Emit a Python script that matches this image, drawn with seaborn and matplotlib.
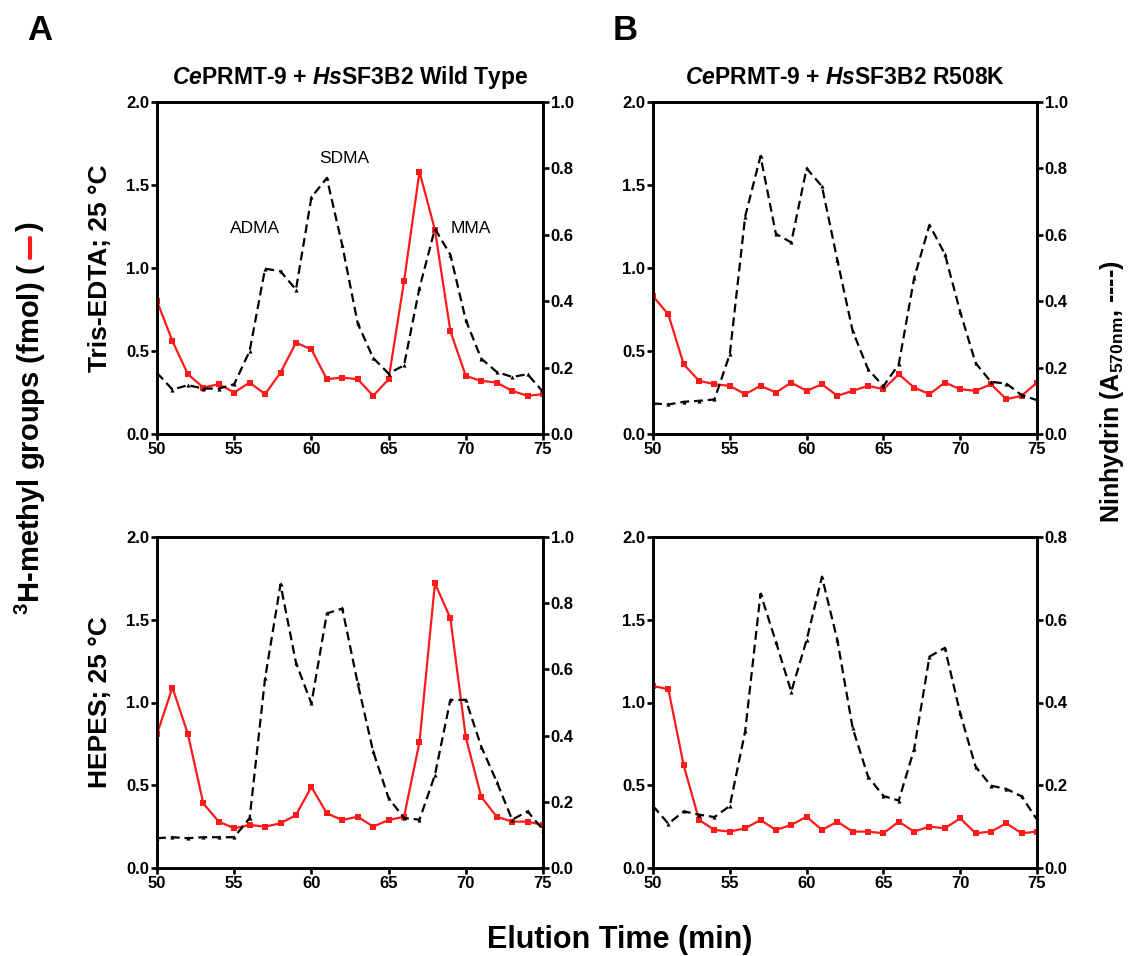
import numpy as np
import pandas as pd
import matplotlib
matplotlib.use("Agg")
import matplotlib.pyplot as plt
from matplotlib.lines import Line2D
import seaborn as sns

# elution time (min) shared by all four panels
elution_min = list(range(50, 76))

# 3H-methyl groups (fmol), left axis
wt_tris_methyl = [0.80, 0.56, 0.36, 0.28, 0.30, 0.25, 0.31, 0.24, 0.37, 0.55, 0.51, 0.33,
                  0.34, 0.33, 0.23, 0.33, 0.92, 1.58, 1.23, 0.62, 0.35, 0.32, 0.31, 0.26,
                  0.23, 0.24]
mut_tris_methyl = [0.83, 0.72, 0.42, 0.32, 0.30, 0.29, 0.24, 0.29, 0.25, 0.31, 0.26, 0.30,
                   0.23, 0.26, 0.29, 0.27, 0.36, 0.28, 0.24, 0.31, 0.27, 0.26, 0.30, 0.21,
                   0.23, 0.31]
wt_hepes_methyl = [0.81, 1.09, 0.81, 0.39, 0.28, 0.24, 0.26, 0.25, 0.27, 0.32, 0.49, 0.33,
                   0.29, 0.31, 0.25, 0.29, 0.31, 0.76, 1.72, 1.51, 0.79, 0.43, 0.31, 0.28,
                   0.28, 0.26]
mut_hepes_methyl = [1.10, 1.08, 0.62, 0.29, 0.23, 0.22, 0.24, 0.29, 0.23, 0.26, 0.31, 0.23,
                    0.28, 0.22, 0.22, 0.21, 0.28, 0.22, 0.25, 0.24, 0.30, 0.21, 0.22, 0.27,
                    0.21, 0.22]

# Ninhydrin A570nm, right axis
wt_tris_ninhydrin = [0.184, 0.134, 0.147, 0.137, 0.137, 0.150, 0.250, 0.498, 0.490, 0.435,
                     0.713, 0.771, 0.568, 0.333, 0.229, 0.182, 0.207, 0.440, 0.618, 0.540,
                     0.343, 0.227, 0.187, 0.172, 0.180, 0.127]
mut_tris_ninhydrin = [0.092, 0.089, 0.097, 0.100, 0.104, 0.240, 0.655, 0.837, 0.603, 0.577,
                      0.800, 0.746, 0.524, 0.310, 0.195, 0.144, 0.210, 0.469, 0.630, 0.542,
                      0.368, 0.214, 0.157, 0.152, 0.117, 0.102]
wt_hepes_ninhydrin = [0.090, 0.093, 0.090, 0.093, 0.093, 0.093, 0.151, 0.573, 0.857, 0.620,
                      0.497, 0.769, 0.784, 0.558, 0.352, 0.211, 0.151, 0.146, 0.281, 0.508,
                      0.508, 0.367, 0.261, 0.146, 0.171, 0.116]
mut_hepes_ninhydrin = [0.150, 0.107, 0.137, 0.129, 0.123, 0.150, 0.330, 0.663, 0.547, 0.426,
                       0.551, 0.704, 0.551, 0.338, 0.221, 0.174, 0.163, 0.287, 0.511, 0.532,
                       0.374, 0.245, 0.199, 0.191, 0.173, 0.117]

x_ticks = [50, 55, 60, 65, 70, 75]
left_ticks = [0.0, 0.5, 1.0, 1.5, 2.0]
peak_labels = ["ADMA", "SDMA", "MMA"]
peak_pos = [(56.35, 1.24), (62.1, 1.66), (70.3, 1.24)]

sns.set_style("ticks")
plt.rcParams['font.family'] = ['Liberation Sans', 'DejaVu Sans']
plt.rcParams['mathtext.fontset'] = 'custom'
plt.rcParams['mathtext.rm'] = 'Liberation Sans:bold'
plt.rcParams['mathtext.bf'] = 'Liberation Sans:bold'
plt.rcParams['mathtext.it'] = 'Liberation Sans:italic:bold'
for key in ['text.color', 'axes.labelcolor', 'xtick.color', 'ytick.color', 'axes.edgecolor']:
    plt.rcParams[key] = 'black'

W, H = 1145, 956
fig = plt.figure(figsize=(W / 100, H / 100), dpi=100)


def px_axes(left, top, right, bottom):
    return fig.add_axes([left / W, 1 - bottom / H, (right - left) / W, (bottom - top) / H])


def draw_panel(ax, methyl, ninhydrin, right_max):
    df = pd.DataFrame({"time": elution_min, "methyl": methyl, "ninhydrin": ninhydrin})
    sns.lineplot(data=df, x="time", y="methyl", ax=ax, color="#ff1a1a", lw=1.6,
                 marker="s", markersize=4.5, markeredgewidth=0, zorder=3)
    ax2 = ax.twinx()
    sns.lineplot(data=df, x="time", y="ninhydrin", ax=ax2, color="black", lw=1.6,
                 linestyle=(0, (4, 2.2)), marker="^", markersize=3, markeredgewidth=0)
    ax.set_xlim(50, 75)
    ax.set_ylim(0, 2.0)
    ax2.set_ylim(0, right_max)
    ax.set_xticks(x_ticks)
    ax.set_yticks(left_ticks)
    ax.set_yticklabels([f"{t:.1f}" for t in left_ticks])
    rt = np.arange(0, right_max + 0.001, 0.2)
    ax2.set_yticks(rt)
    ax2.set_yticklabels([f"{t:.1f}" for t in rt])
    ax.set_xlabel("")
    ax.set_ylabel("")
    ax2.set_ylabel("")
    for a in (ax, ax2):
        for s in a.spines.values():
            s.set_linewidth(1.9)
            s.set_color("black")
        a.tick_params(direction="out", length=4.5, width=1.9, labelsize=12, pad=1,
                      colors="black")
        for lab in a.get_xticklabels() + a.get_yticklabels():
            lab.set_fontweight("bold")
    return ax2


ax_a1 = px_axes(157, 102, 543, 434)
ax_b1 = px_axes(653, 102, 1037, 434)
ax_a2 = px_axes(157, 537, 543, 868)
ax_b2 = px_axes(653, 537, 1037, 868)

draw_panel(ax_a1, wt_tris_methyl, wt_tris_ninhydrin, 1.0)
draw_panel(ax_b1, mut_tris_methyl, mut_tris_ninhydrin, 1.0)
draw_panel(ax_a2, wt_hepes_methyl, wt_hepes_ninhydrin, 1.0)
draw_panel(ax_b2, mut_hepes_methyl, mut_hepes_ninhydrin, 0.8)

for lab, (px, py) in zip(peak_labels, peak_pos):
    ax_a1.text(px, py, lab, fontsize=12.5, ha="center", va="center")

ax_a1.set_title(r"$\mathit{Ce}$PRMT-9 + $\mathit{Hs}$SF3B2 Wild Type",
                fontsize=16.5, fontweight="bold", pad=13)
ax_b1.set_title(r"$\mathit{Ce}$PRMT-9 + $\mathit{Hs}$SF3B2 R508K",
                fontsize=16.5, fontweight="bold", pad=13)

fig.text(40 / W, 1 - 31 / H, "A", fontsize=25, fontweight="bold", ha="center", va="center")
fig.text(625 / W, 1 - 31 / H, "B", fontsize=25, fontweight="bold", ha="center", va="center")

fig.text(100 / W, 1 - 268 / H, "Tris-EDTA; 25 °C", rotation=90, fontsize=19,
         fontweight="bold", ha="center", va="center")
fig.text(100 / W, 1 - 702 / H, "HEPES; 25 °C", rotation=90, fontsize=19,
         fontweight="bold", ha="center", va="center")

# left outer label with the red line sample
fig.text(30 / W, 1 - 262 / H, r"$^{3}$H-methyl groups (fmol) (", rotation=90, fontsize=21,
         fontweight="bold", ha="center", va="top")
fig.add_artist(Line2D([30 / W, 30 / W], [1 - 258 / H, 1 - 238 / H], color="#ff1a1a", lw=3))
fig.text(30 / W, 1 - 232 / H, ")", rotation=90, fontsize=21, fontweight="bold",
         ha="center", va="bottom")

fig.text(1112 / W, 1 - 392 / H, r"Ninhydrin (A$_{\mathrm{570nm}}$, ----)", rotation=90,
         fontsize=18, fontweight="bold", ha="center", va="center")

fig.text(620 / W, 1 - 940 / H, "Elution Time (min)", fontsize=22, fontweight="bold",
         ha="center", va="center")

fig.savefig("out.png", dpi=100)
